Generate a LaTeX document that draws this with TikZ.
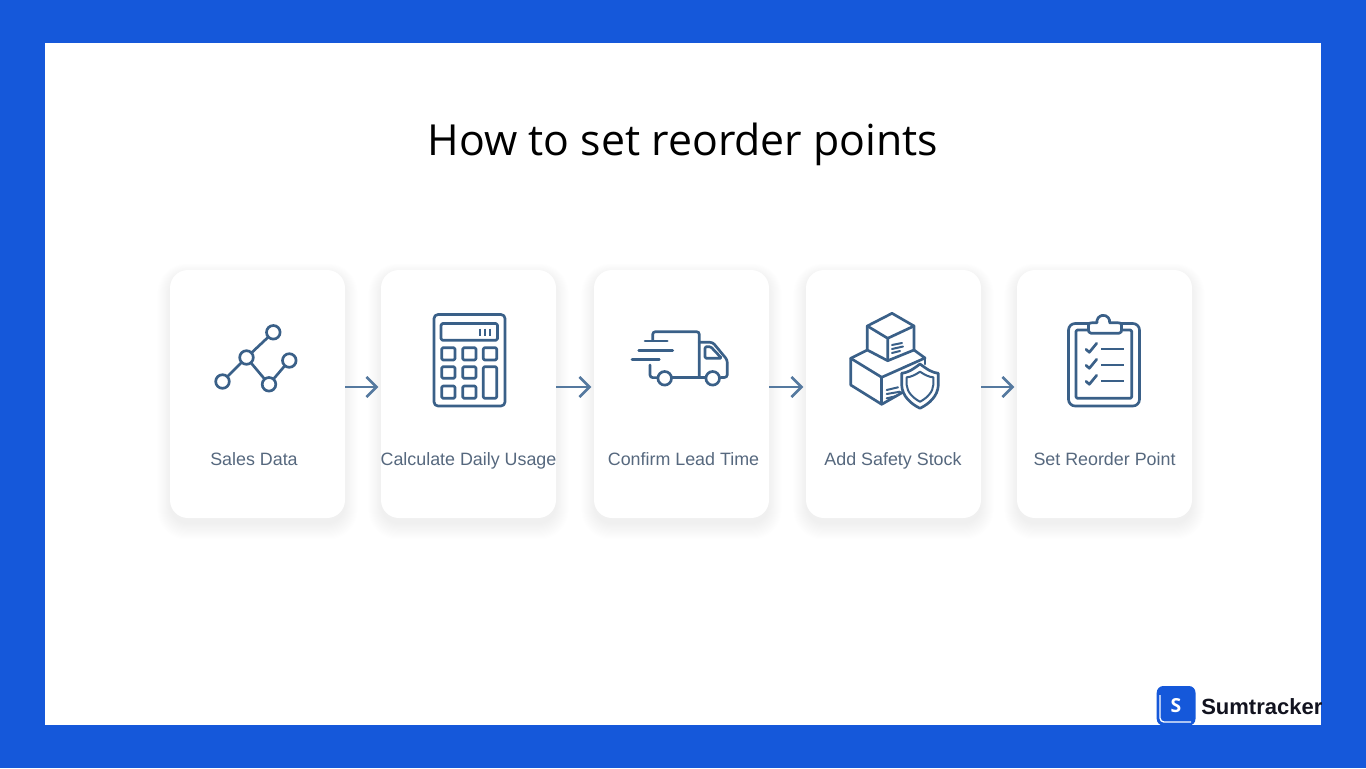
\documentclass[tikz,border=0pt]{standalone}
\usepackage{fontspec}
\setmainfont{Open Sans}
\newfontfamily\labelfont{Liberation Sans}
\usetikzlibrary{arrows.meta,calc}
\definecolor{bandblue}{HTML}{1558DA}
\definecolor{iconblue}{HTML}{3A6088}
\definecolor{arrowblue}{HTML}{55799F}
\definecolor{labelgrey}{HTML}{56687E}
\definecolor{logoink}{HTML}{12131F}
\tikzset{
  x=0.75pt,y=-0.75pt,
  card/.style={fill=white,rounded corners=13.5pt,minimum width=131.25pt,minimum height=186pt,inner sep=0pt,outer sep=0pt},
  cardlabel/.style={font=\labelfont\fontsize{13.4pt}{16pt}\selectfont,text=labelgrey,anchor=base,inner sep=0pt},
  flow/.style={draw=arrowblue,line width=2pt,-{Straight Barb[length=7.5pt,width=15pt,line width=2pt]}},
  ico/.style={draw=iconblue,line width=2pt,line join=round,line cap=round},
  icothin/.style={draw=iconblue,line width=1.5pt,line join=round,line cap=round},
  dot/.style={circle,draw=iconblue,line width=2pt,fill=white,minimum size=10.2pt,inner sep=0pt,outer sep=0pt},
  wheel/.style={circle,draw=iconblue,line width=2pt,fill=white,minimum size=10.2pt,inner sep=0pt,outer sep=0pt},
}
\newcommand{\softshadow}[1]{%
  \foreach \g in {0,...,14}{%
    \pgfmathsetmacro{\rad}{13.5+\g*0.6}%
    \fill[black,opacity=0.005,rounded corners=\rad pt]
      ({#1-\g*0.9},{274-\g*0.75}) rectangle ({#1+175+\g*0.9},{518+6+\g*1.1});
  }%
}
\begin{document}
\begin{tikzpicture}
\useasboundingbox (0,0) rectangle (1366,768);
\fill[bandblue] (0,0) rectangle (1366,768);
\fill[white] (45,43) rectangle (1321,725);

\node[anchor=base,inner sep=0pt,font=\fontsize{32.1pt}{36pt}\selectfont,text=black] (title) at (683,155) {How to set reorder points};

\softshadow{170}\softshadow{381}\softshadow{594}\softshadow{806}\softshadow{1017}
\node[card] (c1) at (257.5,394) {};
\node[card] (c2) at (468.5,394) {};
\node[card] (c3) at (681.5,394) {};
\node[card] (c4) at (893.5,394) {};
\node[card] (c5) at (1104.5,394) {};

\node[cardlabel] (l1) at (254,465) {Sales Data};
\node[cardlabel] (l2) at (468.5,465) {Calculate Daily Usage};
\node[cardlabel] (l3) at (683.5,465) {Confirm Lead Time};
\node[cardlabel] (l4) at (893,465) {Add Safety Stock};
\node[cardlabel] (l5) at (1104.5,465) {Set Reorder Point};

\coordinate (arow) at (0,387);
\draw[flow,shorten >=2pt] (c1.east |- arow) -- (c2.west |- arow);
\draw[flow,shorten >=2pt] (c2.east |- arow) -- (c3.west |- arow);
\draw[flow,shorten >=2pt] (c3.east |- arow) -- (c4.west |- arow);
\draw[flow,shorten >=2pt] (c4.east |- arow) -- (c5.west |- arow);

% chart icon
\node[dot] (d1) at (222.5,381.5) {};
\node[dot] (d2) at (246.5,357.5) {};
\node[dot] (d3) at (273.3,332.3) {};
\node[dot] (d4) at (269,384.3) {};
\node[dot] (d5) at (289.3,360.5) {};
\draw[ico,line cap=butt] (d1) -- (d2) (d2) -- (d3) (d2) -- (d4) (d4) -- (d5);

% calculator icon
\draw[ico,rounded corners=3pt] (434,314.5) rectangle (505,406);
\draw[ico,rounded corners=1.2pt] (441,323.5) rectangle (497.5,340.3);
\draw[icothin,line cap=butt] (479.5,328.5) -- (479.5,336) (484.5,328.5) -- (484.5,336) (489.5,328.5) -- (489.5,336);
\foreach \xa/\xb in {441.7/455,462.7/476,483.3/496.7}
  \draw[ico,rounded corners=1pt] (\xa,347.7) rectangle (\xb,360);
\foreach \xa/\xb in {441.7/455,462.7/476}{
  \draw[ico,rounded corners=1pt] (\xa,366.7) rectangle (\xb,378.3);
  \draw[ico,rounded corners=1pt] (\xa,386) rectangle (\xb,398.3);
}
\draw[ico,rounded corners=1pt] (483.3,366.7) rectangle (496.7,398.3);

% truck icon
\draw[ico,rounded corners=2pt] (652.7,340) -- (652.7,331.7) -- (699.3,331.7) -- (699.3,377.6);
\draw[ico] (645,341) -- (667.3,341) (638.7,350.3) -- (672.7,350.3) (632,359.7) -- (659.3,359.7);
\draw[ico,rounded corners=2pt] (650,365) -- (650,377.6) -- (657,377.6);
\draw[ico] (672,377.6) -- (705,377.6);
\draw[ico,rounded corners=2pt] (699.3,342.3) -- (712.7,342.3) -- (727.3,360) -- (727.3,377.3) -- (720.5,377.6);
\draw[ico,rounded corners=1pt] (705,346.7) -- (710.7,346.7) -- (721.7,358.3) -- (705,358.3) -- cycle;
\node[wheel] (w1) at (664.7,378.3) {};
\node[wheel] (w2) at (712.7,378.3) {};

% boxes icon
\draw[ico] (892,313.3) -- (914,326) -- (914,350) -- (887.7,360.7) -- (867.3,350) -- (867.3,326) -- cycle;
\draw[ico] (867.3,326) -- (887.7,338.3) -- (914,326) (887.7,338.3) -- (887.7,360.7);
\draw[icothin] (892,345) -- (902,343) (892,349) -- (903,346.5) (892,353) -- (900,351);
\draw[ico] (867.3,350) -- (850.7,358.3) -- (850.7,385) -- (881.7,404.3) -- (905,391);
\draw[ico] (850.7,358.3) -- (881.7,377.3) -- (925,358) -- (914,350);
\draw[ico] (881.7,377.3) -- (881.7,404.3);
\draw[ico] (925,358) -- (925,364);
\draw[icothin] (886.7,390) -- (898,387.3) (886.7,394) -- (900,391.7) (886.7,398.3) -- (896.7,396);
\draw[ico,fill=white] (920,364) .. controls (912,370) and (908,372.5) .. (901.7,373.3) -- (901.7,385) .. controls (902,396) and (911,404) .. (920,408.3) .. controls (929,404) and (938,396) .. (938.3,385) -- (938.3,373.3) .. controls (932,372.5) and (928,370) .. (920,364) -- cycle;
\draw[icothin] (920,371.7) .. controls (915,375) and (911,377) .. (906.7,377.3) -- (906.7,385) .. controls (907,392) and (913,398) .. (920,401.7) .. controls (927,398) and (933,392) .. (933.3,385) -- (933.3,377.3) .. controls (929,377) and (925,375) .. (920,371.7) -- cycle;

% clipboard icon
\draw[ico,rounded corners=5pt] (1068.5,323.5) rectangle (1139.5,406);
\draw[ico,rounded corners=1pt] (1076,330) rectangle (1131.7,398.3);
\draw[ico,fill=white] (1091,333.3) .. controls (1088.5,333.3) and (1088.5,331) .. (1088.5,329) -- (1088.5,325) .. controls (1088.5,323) and (1090,322.8) .. (1092,322.8) -- (1097,322.8) arc[start angle=170,end angle=370,radius=6.4] -- (1118,322.8) .. controls (1120,322.8) and (1121.5,323) .. (1121.5,325) -- (1121.5,329) .. controls (1121.5,331) and (1121.5,333.3) .. (1119,333.3) -- cycle;
\foreach \r in {0,16,32}{
  \draw[ico] (1086,349.3+\r) -- (1089.3,352.3+\r) -- (1096.7,343.3+\r);
  \draw[ico,line cap=butt] (1101,349+\r) -- (1123.5,349+\r);
}

% logo
\fill[bandblue,rounded corners=5pt] (1156.7,686) rectangle (1195.5,725.5);
\draw[white,line width=1pt,rounded corners=3pt] (1160,695) -- (1160,722) -- (1191,722);
\node[inner sep=0pt,text=white,font=\fontsize{14.5pt}{18pt}\selectfont\bfseries] (logoS) at (1176,705.5) {S};
\node[anchor=base west,inner sep=0pt,text=logoink,font=\labelfont\fontsize{16.5pt}{20pt}\selectfont\bfseries] (brand) at (1201,714.5) {Sumtracker};
\end{tikzpicture}
\end{document}
